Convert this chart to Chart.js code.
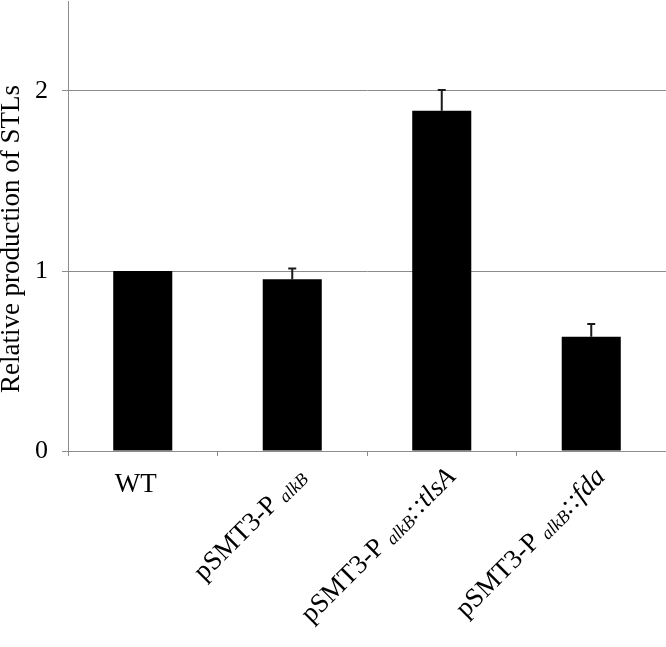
<!DOCTYPE html>
<html>
<head>
<meta charset="utf-8">
<script src="https://cdn.jsdelivr.net/npm/chart.js@4.4.1/dist/chart.umd.min.js"></script>
<style>
  html, body { margin: 0; padding: 0; background: #ffffff; }
  #wrap { width: 666px; height: 647px; position: relative; }
</style>
</head>
<body>
<div id="wrap"><canvas id="c" width="666" height="647"></canvas></div>
<script>
// ---- data ----
const labelPrefix = ['WT', 'pSMT3-P', 'pSMT3-P', 'pSMT3-P'];
const labelSub    = ['', 'alkB', 'alkB', 'alkB'];
const labelSuffix = ['', '', '::tlsA', '::fda'];
const categories  = labelPrefix.map((p, i) => p + (labelSub[i] ? ' ' + labelSub[i] : '') + labelSuffix[i]);
const values      = [1.00, 0.954, 1.89, 0.635];
const errors      = [0, 0.06, 0.115, 0.07];
const yTicks      = [0, 1, 2];
const yTitle      = 'Relative production of STLs';

const FONT = '"Liberation Serif", "Times New Roman", Times, serif';
const GRID = '#8c8c8c';

const labelPlugin = {
  id: 'richLabels',
  afterDraw(chart) {
    const ctx = chart.ctx;
    const xs = chart.scales.x;
    const axisY = chart.chartArea.bottom;
    const catW = xs.getPixelForValue(1) - xs.getPixelForValue(0);
    ctx.save();
    ctx.fillStyle = '#000';
    ctx.textBaseline = 'alphabetic';
    categories.forEach((_, i) => {
      const cx = xs.getPixelForValue(i);
      const parts = [{t: labelPrefix[i], f: '27px ' + FONT, dy: 0}];
      if (labelSub[i]) {
        parts.push({t: ' ', f: '27px ' + FONT, dy: 0});
        parts.push({t: labelSub[i], f: 'italic 18px ' + FONT, dy: 3});
      }
      if (labelSuffix[i]) parts.push({t: labelSuffix[i], f: 'italic 27px ' + FONT, dy: 0});
      let total = 0;
      parts.forEach(p => { ctx.font = p.f; p.w = ctx.measureText(p.t).width; total += p.w; });
      ctx.save();
      if (total < catW * 0.8) {
        ctx.translate(cx - 7 - total / 2, axisY + 41);
      } else {
        ctx.translate(cx + 15, axisY + 27);
        ctx.rotate(-Math.PI / 4);
        ctx.translate(-total, 0);
      }
      let x = 0;
      parts.forEach(p => { ctx.font = p.f; ctx.textAlign = 'left'; ctx.fillText(p.t, x, p.dy); x += p.w; });
      ctx.restore();
    });
    // y-axis title
    ctx.save();
    ctx.font = '27px ' + FONT;
    ctx.textAlign = 'center';
    ctx.textBaseline = 'middle';
    ctx.translate(12, 239);
    ctx.rotate(-Math.PI / 2);
    ctx.fillText(yTitle, 0, 0);
    ctx.restore();
    ctx.restore();
  }
};

const errorPlugin = {
  id: 'errorBars',
  afterDatasetsDraw(chart) {
    const ctx = chart.ctx;
    const ys = chart.scales.y;
    const meta = chart.getDatasetMeta(0);
    ctx.save();
    ctx.strokeStyle = '#1a1a1a';
    ctx.lineWidth = 2;
    values.forEach((v, i) => {
      if (!errors[i]) return;
      const x = meta.data[i].x;
      const y0 = ys.getPixelForValue(v);
      const y1 = ys.getPixelForValue(v + errors[i]);
      ctx.beginPath();
      ctx.moveTo(x, y0); ctx.lineTo(x, y1);
      ctx.moveTo(x - 4, y1); ctx.lineTo(x + 4, y1);
      ctx.stroke();
    });
    ctx.restore();
  }
};

function build() {
  new Chart(document.getElementById('c'), {
    type: 'bar',
    data: {
      labels: categories,
      datasets: [{
        data: values,
        backgroundColor: '#000000',
        borderWidth: 0,
        barPercentage: 0.395,
        categoryPercentage: 1.0
      }]
    },
    options: {
      responsive: false,
      animation: false,
      devicePixelRatio: 1,
      layout: { padding: { top: 1, right: 0, left: 0, bottom: 0 } },
      plugins: { legend: { display: false }, tooltip: { enabled: false } },
      scales: {
        x: {
          offset: true,
          grid: { display: true, drawOnChartArea: false, drawTicks: true, tickLength: 5, color: GRID, lineWidth: 1 },
          border: { display: true, color: GRID, width: 1 },
          ticks: { display: false },
          afterFit(s) { s.height = 196; s.paddingLeft = 0; s.paddingRight = 0; }
        },
        y: {
          min: 0,
          max: 2.5,
          afterBuildTicks(s) { s.ticks = yTicks.map(v => ({ value: v })); },
          grid: { color: GRID, lineWidth: 1, drawTicks: true, tickLength: 6 },
          border: { display: true, color: GRID, width: 1 },
          ticks: { font: { family: FONT, size: 26 }, color: '#000', padding: 14 },
          afterFit(s) { s.width = 68; s.paddingTop = 0; s.paddingBottom = 0; }
        }
      }
    },
    plugins: [labelPlugin, errorPlugin]
  });
}

Promise.all([
  document.fonts.load('27px "Liberation Serif"'),
  document.fonts.load('italic 27px "Liberation Serif"')
]).then(build, build);
</script>
</body>
</html>
